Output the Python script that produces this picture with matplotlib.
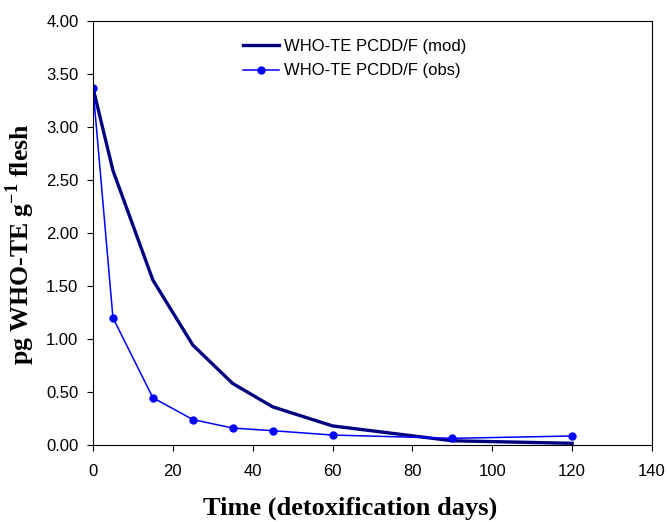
import matplotlib
matplotlib.use("Agg")
import matplotlib.pyplot as plt

days_mod = [0, 5, 15, 25, 35, 45, 60, 90, 120]
teq_mod = [3.37, 2.59, 1.556, 0.943, 0.58, 0.36, 0.18, 0.04, 0.016]

days_obs = [0, 5, 15, 25, 35, 45, 60, 90, 120]
teq_obs = [3.37, 1.20, 0.446, 0.24, 0.16, 0.135, 0.094, 0.063, 0.085]

plt.rcParams['font.family'] = ['Liberation Sans', 'DejaVu Sans']
plt.rcParams['mathtext.fontset'] = 'custom'
plt.rcParams['mathtext.bf'] = 'Liberation Serif:bold'
plt.rcParams['mathtext.rm'] = 'Liberation Serif'

fig = plt.figure(figsize=(6.67, 5.22), dpi=100)
ax = fig.add_axes([0.1394, 0.1475, 0.8381, 0.8123])

ax.plot(days_mod, teq_mod, color='#000080', lw=2.4, label='WHO-TE PCDD/F (mod)')
ax.plot(days_obs, teq_obs, color='#0000ff', lw=1.1, marker='o', ms=5,
        label='WHO-TE PCDD/F (obs)')

ax.set_xlim(0, 140)
ax.set_ylim(0, 4.0)
ax.set_xticks(range(0, 141, 20))
ax.set_yticks([i * 0.5 for i in range(9)])
ax.set_yticklabels(['%.2f' % (i * 0.5) for i in range(9)])
ax.tick_params(direction='out', length=4.5, labelsize=12)
ax.tick_params(axis='x', pad=9)
ax.tick_params(axis='y', pad=6)

ax.set_xlabel('Time (detoxification days)', family='Liberation Serif',
              fontweight='bold', fontsize=19)
ax.set_ylabel('pg WHO-TE g$^{\\mathbf{-1}}$ flesh', family='Liberation Serif',
              fontweight='bold', fontsize=18.5)
ax.xaxis.set_label_coords(0.46, -0.122)
ax.yaxis.set_label_coords(-0.1, 0.474)

ax.legend(loc='upper left', bbox_to_anchor=(0.268, 0.957), frameon=False,
          fontsize=12, handlelength=2.2, handletextpad=0.25, labelspacing=0.55,
          borderpad=0, borderaxespad=0)

fig.savefig('out.png', dpi=100)
